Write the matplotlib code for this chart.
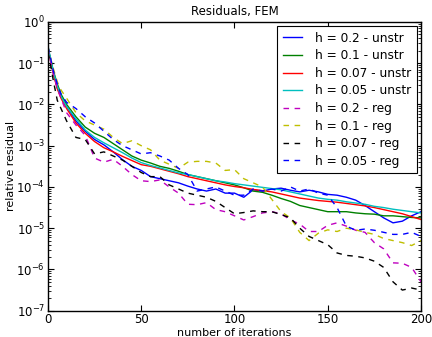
"""Residual history of the FEM solve for unstructured and regular meshes."""

import matplotlib

matplotlib.use("Agg")
import matplotlib.pyplot as plt
import numpy as np
from matplotlib.ticker import NullFormatter

# iteration numbers the curves were read at
iterations = [0, 1, 2, 3, 5, 7] + list(range(10, 201, 5))

# log10 of the relative residual, one list per run
unstr_02 = [-0.62, -0.85, -1.05, -1.25, -1.6, -1.8,
            -2.05, -2.4, -2.65, -2.85, -2.98, -3.15, -3.34, -3.5, -3.6, -3.75,
            -3.8, -3.85, -3.9, -3.98, -4.05, -4.1, -4.05, -4.15, -4.15, -4.25,
            -4.07, -4.1, -4.05, -4.03, -4.08, -4.12, -4.08, -4.12, -4.18, -4.2,
            -4.25, -4.32, -4.45, -4.6, -4.75, -4.87, -4.83, -4.7, -4.6]
unstr_01 = [-0.65, -0.82, -1.02, -1.2, -1.5, -1.75,
            -2.0, -2.3, -2.55, -2.7, -2.8, -2.95, -3.1, -3.25, -3.35, -3.42,
            -3.5, -3.55, -3.62, -3.7, -3.75, -3.8, -3.85, -3.9, -3.95, -4.02,
            -4.1, -4.13, -4.2, -4.28, -4.35, -4.45, -4.5, -4.55, -4.6, -4.6,
            -4.6, -4.63, -4.65, -4.66, -4.7, -4.7, -4.72, -4.74, -4.75]
unstr_007 = [-0.6, -0.85, -1.08, -1.28, -1.62, -1.85,
             -2.1, -2.45, -2.7, -2.9, -3.05, -3.15, -3.26, -3.36, -3.46, -3.5,
             -3.56, -3.62, -3.68, -3.75, -3.8, -3.85, -3.9, -3.95, -3.99, -4.02,
             -4.06, -4.09, -4.12, -4.17, -4.22, -4.27, -4.3, -4.33, -4.35, -4.37,
             -4.4, -4.43, -4.46, -4.5, -4.55, -4.6, -4.65, -4.72, -4.79]
unstr_005 = [-0.58, -0.8, -1.02, -1.22, -1.55, -1.8,
             -2.05, -2.35, -2.62, -2.8, -2.93, -3.05, -3.17, -3.3, -3.41, -3.48,
             -3.54, -3.6, -3.66, -3.7, -3.75, -3.8, -3.85, -3.88, -3.92, -3.95,
             -3.98, -4.01, -4.04, -4.07, -4.12, -4.17, -4.22, -4.27, -4.3, -4.32,
             -4.36, -4.39, -4.42, -4.47, -4.5, -4.54, -4.57, -4.6, -4.63]
reg_02 = [-0.65, -0.87, -1.07, -1.27, -1.6, -1.85,
          -2.2, -2.5, -2.75, -3.3, -3.4, -3.33, -3.5, -3.7, -3.85, -3.87,
          -3.83, -4.0, -4.15, -4.42, -4.43, -4.38, -4.55, -4.6, -4.7, -4.8,
          -4.72, -4.63, -4.6, -4.65, -4.8, -4.9, -5.08, -5.08, -4.93, -4.87,
          -4.95, -5.05, -5.1, -5.35, -5.5, -5.84, -5.85, -5.95, -6.3]
reg_01 = [-0.6, -0.8, -0.98, -1.15, -1.45, -1.65,
          -1.85, -2.2, -2.4, -2.5, -2.6, -2.8, -2.95, -2.88, -3.0, -3.1,
          -3.35, -3.45, -3.55, -3.4, -3.38, -3.38, -3.42, -3.6, -3.58, -3.8,
          -3.9, -4.0, -4.3, -4.6, -4.75, -5.1, -5.3, -5.12, -5.04, -5.08,
          -5.0, -5.04, -5.1, -5.15, -5.25, -5.3, -5.35, -5.42, -5.3]
reg_007 = [-0.75, -0.95, -1.2, -1.45, -1.9, -2.1,
           -2.4, -2.8, -2.85, -3.2, -3.15, -3.25, -3.35, -3.5, -3.65, -3.75,
           -3.75, -3.95, -4.05, -4.15, -4.2, -4.25, -4.35, -4.5, -4.65, -4.62,
           -4.58, -4.6, -4.6, -4.67, -4.75, -5.0, -5.2, -5.3, -5.4, -5.6,
           -5.66, -5.68, -5.72, -5.8, -5.95, -6.3, -6.5, -6.45, -6.5]
reg_005 = [-0.6, -0.8, -1.0, -1.2, -1.5, -1.75,
           -1.95, -2.1, -2.3, -2.45, -2.65, -2.85, -3.0, -3.1, -3.2, -3.17,
           -3.25, -3.35, -3.55, -3.7, -4.1, -4.05, -4.0, -4.1, -4.2, -4.2,
           -4.05, -4.1, -4.05, -4.1, -4.0, -4.1, -4.05, -4.15, -4.2, -4.5,
           -4.95, -5.05, -5.02, -5.05, -5.1, -5.15, -5.15, -5.1, -5.2]

labels = ["h = 0.2 - unstr", "h = 0.1 - unstr", "h = 0.07 - unstr", "h = 0.05 - unstr",
          "h = 0.2 - reg", "h = 0.1 - reg", "h = 0.07 - reg", "h = 0.05 - reg"]

# classic matplotlib single-letter colours
_STYLES = [
    ((0, 0, 1), "-"),
    ((0, 0.5, 0), "-"),
    ((1, 0, 0), "-"),
    ((0, 0.75, 0.75), "-"),
    ((0.75, 0, 0.75), "--"),
    ((0.75, 0.75, 0), "--"),
    ((0, 0, 0), "--"),
    ((0, 0, 1), "--"),
]


def main() -> None:
    series = [unstr_02, unstr_01, unstr_007, unstr_005, reg_02, reg_01, reg_007, reg_005]
    for s in series:
        assert len(s) == len(iterations)

    plt.rcParams["font.family"] = "DejaVu Sans"
    plt.rcParams["font.size"] = 8.5
    plt.rcParams["mathtext.default"] = "regular"

    fig = plt.figure(figsize=(4.32, 3.37), dpi=100, facecolor="white")
    ax = fig.add_axes([0.111, 0.078, 0.8635, 0.857])

    for values, label, (color, ls) in zip(series, labels, _STYLES):
        kw = {"dashes": (4, 4)} if ls == "--" else {}
        ax.plot(iterations, np.power(10.0, values), color=color, linestyle=ls,
                linewidth=1.0, label=label, **kw)

    ax.set_yscale("log")
    ax.set_xlim(0, 200)
    ax.set_ylim(1e-7, 1e0)
    ax.set_xticks([0, 50, 100, 150, 200])
    ax.yaxis.set_minor_formatter(NullFormatter())
    ax.set_title("Residuals, FEM", fontsize=8.5, pad=5)
    ax.set_xlabel("number of iterations", fontsize=8, labelpad=1)
    ax.set_ylabel("relative residual", fontsize=8, labelpad=0)

    ax.tick_params(which="both", direction="in", top=True, right=True,
                   labelsize=8.5, pad=2)
    ax.tick_params(which="major", length=4, width=0.8)
    ax.tick_params(which="minor", length=2, width=0.6)
    for spine in ax.spines.values():
        spine.set_linewidth(1.0)

    leg = ax.legend(loc="upper right", fontsize=8.7, frameon=True, fancybox=False,
                    edgecolor="black", framealpha=1.0, borderaxespad=0.35,
                    handlelength=1.6, handletextpad=1.1, labelspacing=0.38,
                    borderpad=0.45)
    leg.get_frame().set_linewidth(0.8)

    fig.savefig("out.png", dpi=100, facecolor="white")
    plt.close(fig)


if __name__ == "__main__":
    main()
